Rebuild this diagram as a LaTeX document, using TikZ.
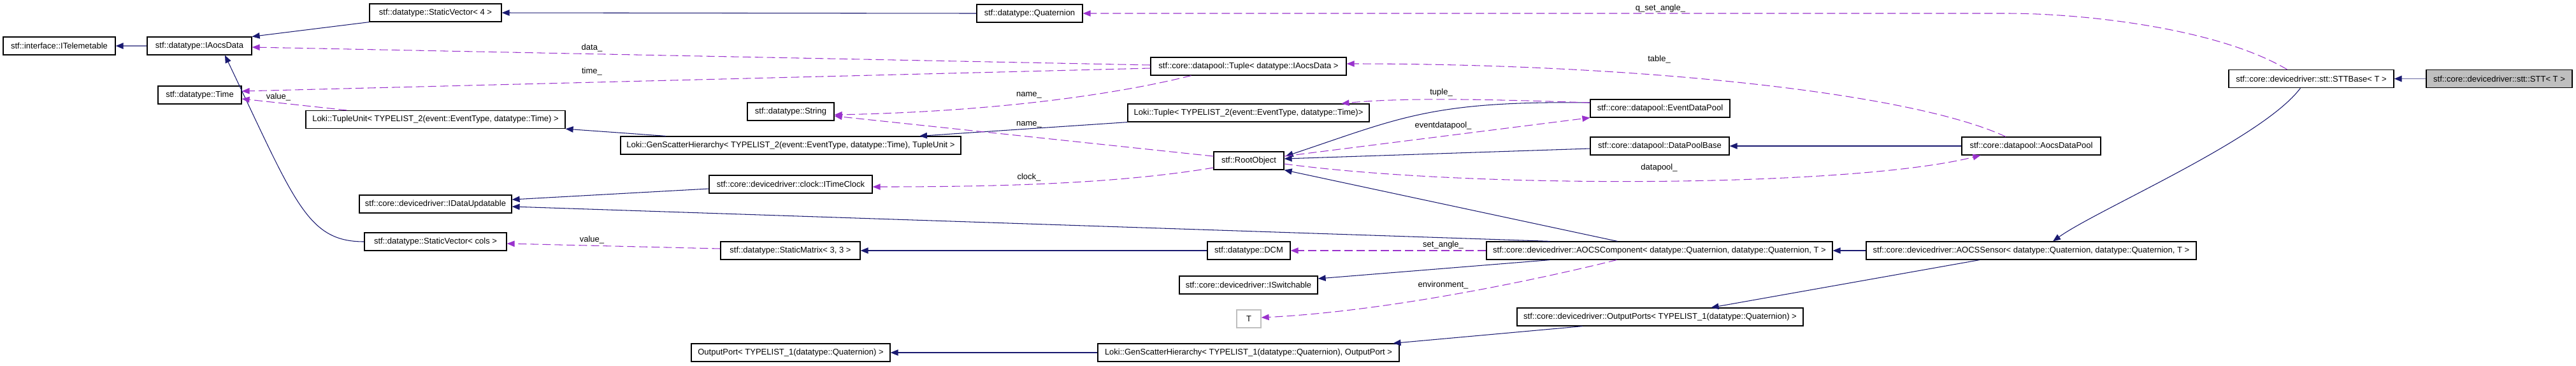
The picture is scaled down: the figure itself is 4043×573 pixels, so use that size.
\documentclass[tikz,border=0pt]{standalone}
\usepackage{fontspec}
\setmainfont{Liberation Sans}
\usepackage{tikz}
\usetikzlibrary{arrows.meta, calc}
\definecolor{inhblue}{RGB}{25,25,112}
\definecolor{usepurple}{RGB}{154,50,205}
\definecolor{focusgray}{RGB}{191,191,191}

\begin{document}
\begin{tikzpicture}[
    x=0.2mm, y=-0.2mm,
    font=\fontsize{7.4}{8.5}\selectfont,
    cls/.style={rectangle, draw=black, line width=0.7pt, fill=white,
                minimum width=#1*0.2mm, minimum height=5.6mm, inner sep=0pt},
    inh/.style={-{Triangle[length=2.4mm, width=1.9mm]}, draw=inhblue, line width=0.6pt},
    inhs/.style={-{Triangle[length=2.4mm, width=1.9mm, color=inhblue]},
                 draw=inhblue!65, line width=1.1pt},
    usg/.style={-{Triangle[length=2.4mm, width=1.9mm]}, draw=usepurple,
                line width=0.6pt, dash pattern=on 2.6mm off 1.2mm},
    lbl/.style={inner sep=0pt},
]
\useasboundingbox (0,0) rectangle (4043,573);

% Column 1 -- interfaces
\node[cls=176] (itele) at (93,72) {stf::interface::ITelemetable};

% Column 2 -- basic data
\node[cls=164] (iaocs) at (313,72) {stf::datatype::IAocsData};
\node[cls=131] (time)  at (313.5,149) {stf::datatype::Time};

% Column 3
\node[cls=207] (svec4)    at (683.5,20)  {stf::datatype::StaticVector< 4 >};
\node[cls=407] (tunit)    at (683.5,187.5) {Loki::TupleUnit< TYPELIST\_2(event::EventType, datatype::Time) >};
\node[cls=239] (iupd)     at (683.5,320) {stf::core::devicedriver::IDataUpdatable};
\node[cls=223] (sveccols) at (683.5,379) {stf::datatype::StaticVector< cols >};

% Column 4
\node[cls=166] (quat)    at (1616,21)   {stf::datatype::Quaternion};
\node[cls=136] (string)  at (1241,175)  {stf::datatype::String};
\node[cls=534] (gsh2)    at (1241,228)  {Loki::GenScatterHierarchy< TYPELIST\_2(event::EventType, datatype::Time), TupleUnit >};
\node[cls=256] (clock)   at (1241,289)  {stf::core::devicedriver::clock::ITimeClock};
\node[cls=219] (smat)    at (1240.5,393) {stf::datatype::StaticMatrix< 3, 3 >};
\node[cls=312] (outport) at (1241,553)  {OutputPort< TYPELIST\_1(datatype::Quaternion) >};

% Column 5
\node[cls=307] (tuple)     at (1959.5,104) {stf::core::datapool::Tuple< datatype::IAocsData >};
\node[cls=379] (lokituple) at (1959.5,177) {Loki::Tuple< TYPELIST\_2(event::EventType, datatype::Time)>};
\node[cls=110] (root)      at (1960,252)   {stf::RootObject};
\node[cls=130] (dcm)       at (1960,393)   {stf::datatype::DCM};
\node[cls=217] (iswitch)   at (1959.5,447) {stf::core::devicedriver::ISwitchable};
\node[cls=38, draw=focusgray] (tparam) at (1960,500) {T};
\node[cls=473] (gsh1)      at (1959.5,553) {Loki::GenScatterHierarchy< TYPELIST\_1(datatype::Quaternion), OutputPort >};

% Column 6
\node[cls=219] (edpool)   at (2605.5,170) {stf::core::datapool::EventDataPool};
\node[cls=218] (dpbase)   at (2605,229)   {stf::core::datapool::DataPoolBase};
\node[cls=543] (aocscomp) at (2604.5,393) {stf::core::devicedriver::AOCSComponent< datatype::Quaternion, datatype::Quaternion, T >};
\node[cls=449] (outports) at (2605.5,497) {stf::core::devicedriver::OutputPorts< TYPELIST\_1(datatype::Quaternion) >};

% Column 7
\node[cls=218] (adpool)   at (3188,229) {stf::core::datapool::AocsDataPool};
\node[cls=518] (aocssens) at (3188,393) {stf::core::devicedriver::AOCSSensor< datatype::Quaternion, datatype::Quaternion, T >};

% Column 8 -- the class itself
\node[cls=259] (sttbase) at (3627.5,123.5) {stf::core::devicedriver::stt::STTBase< T >};
\node[cls=229, fill=focusgray] (stt) at (3922.5,123.5) {stf::core::devicedriver::stt::STT< T >};

% Inheritance
\draw[inhs] (iaocs.west) -- (itele.east);
\draw[inh] (svec4.south west) -- (iaocs.north east);
\draw[inh] (quat.west) -- (svec4.east);
\draw[inh] (sveccols.west) .. controls +(-90,0) and +(110,230) .. ($(iaocs.south)+(40,0)$);
\draw[inh] ($(gsh2.north)+(-196,0)$) -- (tunit.south east);
\draw[inh] (lokituple.south west) -- ($(gsh2.north)+(202,0)$);
\draw[inh] ($(edpool.west)+(0,-9)$) .. controls +(-250,-3) and +(180,-60) .. ($(root.east)+(2,-7)$);
\draw[inh] ($(dpbase.west)+(0,4)$) -- ($(root.east)+(0,-3)$);
\draw[inh] (adpool.west) -- (dpbase.east);
\draw[inh] ($(clock.west)+(0,7)$) -- ($(iupd.east)+(0,-7)$);
\draw[inh] ($(aocscomp.north)+(-172,0)$) -- ($(iupd.east)+(0,4)$);
\draw[inh] ($(aocscomp.north)+(-66,0)$) -- (root.south east);
\draw[inh] (dcm.west) -- (smat.east);
\draw[inh] ($(aocscomp.south)+(-172,0)$) -- ($(iswitch.east)+(0,-10)$);
\draw[inh] (aocssens.west) -- (aocscomp.east);
\draw[inh] ($(sttbase.south)+(-17,0)$) .. controls +(-60,80) and +(70,-50) .. ($(aocssens.north)+(34,0)$);
\draw[inh] ($(outports.south)+(-122,0)$) -- ($(gsh1.north)+(227,0)$);
\draw[inh] (gsh1.west) -- (outport.east);
\draw[inh] ($(aocssens.south)+(-81,0)$) -- ($(outports.north)+(80,0)$);
\draw[inhs] (stt.west) -- (sttbase.east);

% Usage
\draw[usg] ($(tuple.west)+(0,-2)$) -- ($(iaocs.east)+(0,2)$);
\draw[usg] ($(tuple.west)+(0,3)$) -- ($(time.east)+(0,-6)$);
\draw[usg] ($(tunit.north west)+(65,0)$) -- ($(time.east)+(0,6)$);
\draw[usg] ($(tuple.south)+(-90,0)$) .. controls +(-120,30) and +(250,-5) .. ($(string.east)+(0,5)$);
\draw[usg] ($(root.west)+(0,-7)$) -- ($(string.east)+(0,7)$);
\draw[usg] ($(root.west)+(0,11)$) .. controls +(-150,25) and +(200,0) .. ($(clock.east)+(0,4)$);
\draw[usg] ($(edpool.west)+(0,-9)$) .. controls +(-150,-5) and +(100,-10) .. ($(lokituple.north)+(146,0)$);
\draw[usg] ($(root.east)+(0,-7)$) -- (edpool.south west);
\draw[usg] ($(adpool.north)+(-40,0)$) .. controls +(-150,-70) and +(450,0) .. ($(tuple.east)+(0,-4)$);
\draw[usg] ($(root.east)+(0,5)$) .. controls +(300,40) and +(-200,50) .. ($(adpool.south west)+(30,0)$);
\draw[usg] ($(sttbase.north)+(-38,0)$) .. controls +(-110,-65) and +(120,0) .. ($(quat.east)+(1450,0)$) -- (quat.east);
\draw[usg] (aocscomp.west) -- (dcm.east);
\draw[usg] ($(aocscomp.south)+(-67,0)$) .. controls +(-120,30) and +(200,-10) .. ($(tparam.east)+(0,-2)$);
\draw[usg] ($(smat.west)+(0,-3)$) -- ($(sveccols.east)+(0,3)$);

% Member labels
\node[lbl] (l-data)   at (929,75)   {data\_};
\node[lbl] (l-time)   at (929,112)  {time\_};
\node[lbl] (l-value1) at (437,152)  {value\_};
\node[lbl] (l-name1)  at (1615,149) {name\_};
\node[lbl] (l-name2)  at (1615,195) {name\_};
\node[lbl] (l-clock)  at (1615,278) {clock\_};
\node[lbl] (l-tuple)  at (2262,145) {tuple\_};
\node[lbl] (l-edpool) at (2265,197) {eventdatapool\_};
\node[lbl] (l-table)  at (2604,93)  {table\_};
\node[lbl] (l-dpool)  at (2604,263) {datapool\_};
\node[lbl] (l-qset)   at (2606,13)  {q\_set\_angle\_};
\node[lbl] (l-set)    at (2265,384) {set\_angle\_};
\node[lbl] (l-env)    at (2265,447) {environment\_};
\node[lbl] (l-value2) at (929,376)  {value\_};

\end{tikzpicture}
\end{document}
